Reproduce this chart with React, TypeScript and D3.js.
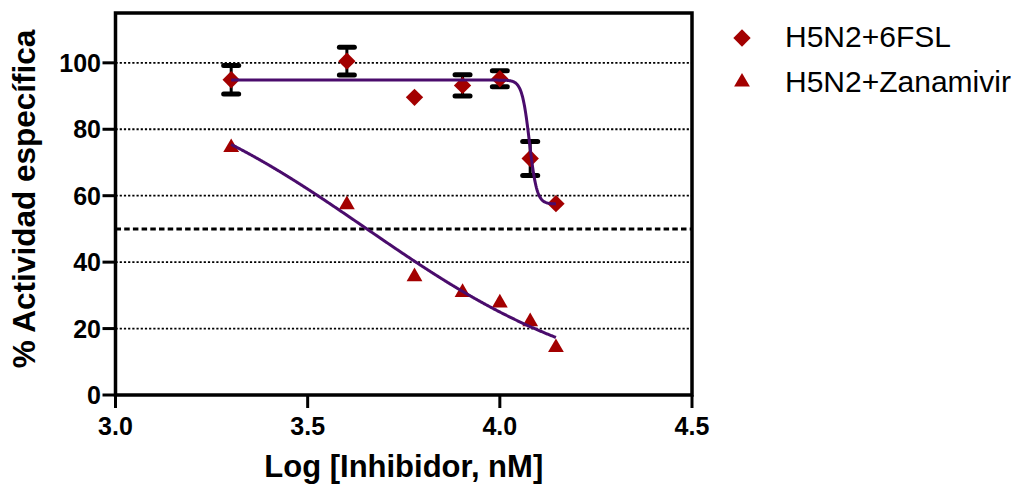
import React from "react";
import * as d3 from "d3";

const LOG_CONC = [3.301, 3.602, 3.778, 3.903, 4.0, 4.079, 4.146];
const FSL_MEAN = [94.9, 100.5, 89.6, 93.2, 95.2, 71.2, 57.6];
const FSL_SEM = [4.3, 4.2, 0, 3.2, 2.4, 5.1, 0];
const ZAN_MEAN = [74.2, 57.0, 35.3, 30.6, 27.4, 21.8, 14.0];

// fitted 4-parameter logistic curves (top, bottom, logIC50, hill)
const FSL_FIT = { top: 94.8, bottom: 57.5, logIC50: 4.077, hill: 45 };
const ZAN_FIT = { top: 100, bottom: 0, logIC50: 3.654, hill: 1.38 };

const X_TICKS = [3.0, 3.5, 4.0, 4.5];
const Y_TICKS = [0, 20, 40, 60, 80, 100];
const GRID_Y = [20, 40, 60, 80, 100];
const HALF_LINE = 50;

const SERIES_NAMES = ["H5N2+6FSL", "H5N2+Zanamivir"];

const W = 1016;
const H = 485;
const M = { left: 115.5, right: 692, top: 13, bottom: 395 };
const RED = "#a30000";
const PURPLE = "#4a0c6c";
const FONT = "'Liberation Sans', Arial, Helvetica, sans-serif";

function logistic(p: { top: number; bottom: number; logIC50: number; hill: number }, x: number) {
  return p.bottom + (p.top - p.bottom) / (1 + Math.pow(10, (x - p.logIC50) * p.hill));
}

export default function App() {
  const x = d3.scaleLinear().domain([3.0, 4.5]).range([M.left, M.right]);
  const y = d3.scaleLinear().domain([0, 115]).range([M.bottom, M.top]);

  const xs = d3.range(0, 601).map((i) => LOG_CONC[0] + ((LOG_CONC[6] - LOG_CONC[0]) * i) / 600);
  const line = d3
    .line<number[]>()
    .x((d) => x(d[0]))
    .y((d) => y(d[1]))
    .curve(d3.curveLinear);
  const fslPath = line(xs.map((v) => [v, logistic(FSL_FIT, v)])) || "";
  const zanPath = line(xs.map((v) => [v, logistic(ZAN_FIT, v)])) || "";

  const diamond = d3.symbol().type(d3.symbolSquare).size(150)() || "";
  const triangle = d3.symbol().type(d3.symbolTriangle).size(108)() || "";

  return (
    <svg
      width={W}
      height={H}
      style={{ position: "absolute", left: 0, top: 0, background: "#fff" }}
      fontFamily={FONT}
    >
      <rect x={0} y={0} width={W} height={H} fill="#fff" />
      {/* grid */}
      {GRID_Y.map((v) => (
        <line
          key={v}
          x1={M.left}
          x2={M.right}
          y1={y(v)}
          y2={y(v)}
          stroke="#000"
          strokeWidth={1.8}
          strokeDasharray="2.2,2"
        />
      ))}
      <line
        x1={M.left}
        x2={M.right}
        y1={y(HALF_LINE)}
        y2={y(HALF_LINE)}
        stroke="#000"
        strokeWidth={3}
        strokeDasharray="5.5,3.2"
      />
      {/* error bars */}
      {LOG_CONC.map((c, i) =>
        FSL_SEM[i] > 0 ? (
          <g key={"e" + i} stroke="#000">
            <line x1={x(c)} x2={x(c)} y1={y(FSL_MEAN[i] + FSL_SEM[i])} y2={y(FSL_MEAN[i] - FSL_SEM[i])} strokeWidth={3} />
            <line x1={x(c) - 7.5} x2={x(c) + 7.5} y1={y(FSL_MEAN[i] + FSL_SEM[i])} y2={y(FSL_MEAN[i] + FSL_SEM[i])} strokeWidth={5} strokeLinecap="round" />
            <line x1={x(c) - 7.5} x2={x(c) + 7.5} y1={y(FSL_MEAN[i] - FSL_SEM[i])} y2={y(FSL_MEAN[i] - FSL_SEM[i])} strokeWidth={5} strokeLinecap="round" />
          </g>
        ) : null
      )}
      {/* markers */}
      {LOG_CONC.map((c, i) => (
        <path key={"d" + i} d={diamond} fill={RED} transform={`translate(${x(c)},${y(FSL_MEAN[i])}) rotate(45)`} />
      ))}
      {LOG_CONC.map((c, i) => (
        <path key={"t" + i} d={triangle} fill={RED} transform={`translate(${x(c)},${y(ZAN_MEAN[i]) - 1})`} />
      ))}
      {/* curves */}
      <path d={fslPath} fill="none" stroke={PURPLE} strokeWidth={3} />
      <path d={zanPath} fill="none" stroke={PURPLE} strokeWidth={3} />

      {/* frame */}
      <rect x={M.left} y={M.top} width={M.right - M.left} height={M.bottom - M.top} fill="none" stroke="#000" strokeWidth={3.5} />

      {/* y axis ticks */}
      {Y_TICKS.map((v) => (
        <g key={"y" + v}>
          <line x1={M.left - 13} x2={M.left} y1={y(v)} y2={y(v)} stroke="#000" strokeWidth={3} />
          <text x={101} y={y(v)} dy="0.36em" textAnchor="end" fontSize={25} fontWeight="bold">
            {v}
          </text>
        </g>
      ))}
      {/* x axis ticks */}
      {X_TICKS.map((v) => (
        <g key={"x" + v}>
          <line x1={x(v)} x2={x(v)} y1={M.bottom} y2={M.bottom + 13} stroke="#000" strokeWidth={3} />
          <text x={x(v)} y={435} textAnchor="middle" fontSize={25} fontWeight="bold">
            {d3.format(".1f")(v)}
          </text>
        </g>
      ))}
      {/* axis titles */}
      <text x={(M.left + M.right) / 2} y={477} textAnchor="middle" fontSize={31} fontWeight="bold">
        Log [Inhibidor, nM]
      </text>
      <text transform={`translate(35,199) rotate(-90)`} textAnchor="middle" fontSize={31.5} fontWeight="bold">
        % Actividad específica
      </text>

      {/* legend */}
      <path d={diamond} fill={RED} transform="translate(742,38) rotate(45)" />
      <text x={785} y={47} fontSize={30}>
        {SERIES_NAMES[0]}
      </text>
      <path d={triangle} fill={RED} transform="translate(742,82)" />
      <text x={785} y={92} fontSize={30}>
        {SERIES_NAMES[1]}
      </text>
    </svg>
  );
}
